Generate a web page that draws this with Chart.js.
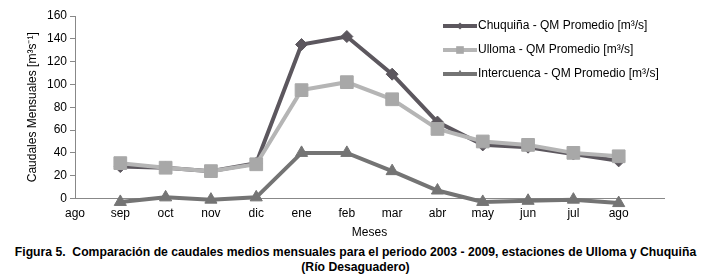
<!DOCTYPE html>
<html>
<head>
<meta charset="utf-8">
<script src="https://cdn.jsdelivr.net/npm/chart.js@4"></script>
<style>
  body { margin: 0; background: #fff; width: 715px; height: 278px; overflow: hidden; position: relative; }
  #wrap { position: absolute; left: 0; top: 0; width: 715px; height: 240px; }
  #caption { position: absolute; left: -2px; top: 245px; width: 715px; text-align: center;
    font: bold 12.2px "Liberation Sans", Arial, sans-serif; line-height: 15px; color: #000; }
</style>
</head>
<body>
<div id="wrap"><canvas id="chart" width="715" height="240"></canvas></div>
<div id="caption">Figura 5.&nbsp; Comparación de caudales medios mensuales para el periodo 2003 - 2009, estaciones de Ulloma y Chuquiña<br>(Río Desaguadero)</div>
<script>
// data
const months = ['ago', 'sep', 'oct', 'nov', 'dic', 'ene', 'feb', 'mar', 'abr', 'may', 'jun', 'jul', 'ago', ''];
const chuquina = [null, 28, 27, 24, 31, 135, 142, 109, 67, 47, 45, 39, 33, null];
const ulloma = [null, 31, 27, 24, 30, 95, 102, 87, 61, 50, 47, 40, 37, null];
const intercuenca = [null, -3, 1, -1, 1, 40, 40, 24, 7, -3, -2, -1, -4, null];
const seriesNames = ['Chuquiña - QM Promedio [m³/s]', 'Ulloma - QM Promedio [m³/s]', 'Intercuenca - QM Promedio [m³/s]'];
const yTicks = [0, 20, 40, 60, 80, 100, 120, 140, 160];

const FONT = '"Liberation Sans", Arial, sans-serif';

function series(label, data, line, fill, style, radius, order) {
  return {
    label: label, data: data, order: order,
    borderColor: line, backgroundColor: fill,
    borderWidth: 4, pointStyle: style, pointRadius: radius, pointHoverRadius: radius,
    pointBackgroundColor: fill, pointBorderColor: fill, pointBorderWidth: 1,
    tension: 0, clip: false, spanGaps: false
  };
}

// legend drawn by hand inside the plot, top right
const legendBox = {
  id: 'legendBox',
  afterDraw(chart) {
    const ctx = chart.ctx;
    ctx.save();
    chart.data.datasets.forEach((ds, i) => {
      const y = 26 + i * 24;
      ctx.strokeStyle = ds.borderColor;
      ctx.lineWidth = 4;
      ctx.beginPath();
      ctx.moveTo(443, y);
      ctx.lineTo(477, y);
      ctx.stroke();
      ctx.fillStyle = ds.pointBackgroundColor;
      Chart.helpers.drawPoint(ctx, { pointStyle: ds.pointStyle, radius: ds.pointRadius * 0.6, borderWidth: 0 }, 460, y);
      ctx.fillStyle = '#000';
      ctx.font = '12px ' + FONT;
      ctx.textBaseline = 'middle';
      ctx.textAlign = 'left';
      ctx.fillText(ds.label, 478, y);
    });
    ctx.restore();
  }
};

new Chart(document.getElementById('chart'), {
  type: 'line',
  data: {
    labels: months,
    datasets: [
      series(seriesNames[0], chuquina, '#5c575e', '#5c575e', 'rectRot', 6, 1),
      series(seriesNames[1], ulloma, '#b5b5b5', '#a8a8a8', 'rect', 9, 0),
      series(seriesNames[2], intercuenca, '#747474', '#747474', 'triangle', 7, 2)
    ]
  },
  options: {
    responsive: false,
    animation: false,
    layout: { padding: { top: 16, right: 51, bottom: 0, left: 0 } },
    plugins: { legend: { display: false }, tooltip: { enabled: false } },
    scales: {
      x: {
        offset: false,
        grid: { display: false, drawOnChartArea: false, drawTicks: true, tickLength: 4, tickColor: '#888' },
        border: { display: true, color: '#888', width: 1 },
        ticks: { color: '#000', font: { family: FONT, size: 12 }, padding: 4, maxRotation: 0, autoSkip: false },
        title: { display: true, text: 'Meses', color: '#000', font: { family: FONT, size: 12 }, padding: { top: 12, bottom: 0 } },
        afterFit(scale) { scale.height = 41.5; }
      },
      y: {
        min: 0, max: 160,
        afterBuildTicks(scale) { scale.ticks = yTicks.map(v => ({ value: v })); },
        grid: { display: true, drawOnChartArea: false, drawTicks: true, tickLength: 5, tickColor: '#888' },
        border: { display: true, color: '#888', width: 1 },
        ticks: { color: '#000', font: { family: FONT, size: 12 }, padding: 3 },
        title: { display: true, text: 'Caudales Mensuales [m³s⁻¹]', color: '#000', font: { family: FONT, size: 12 }, padding: { top: 25, bottom: 0 } },
        afterFit(scale) { scale.width = 75; }
      }
    }
  },
  plugins: [legendBox]
});
</script>
</body>
</html>
